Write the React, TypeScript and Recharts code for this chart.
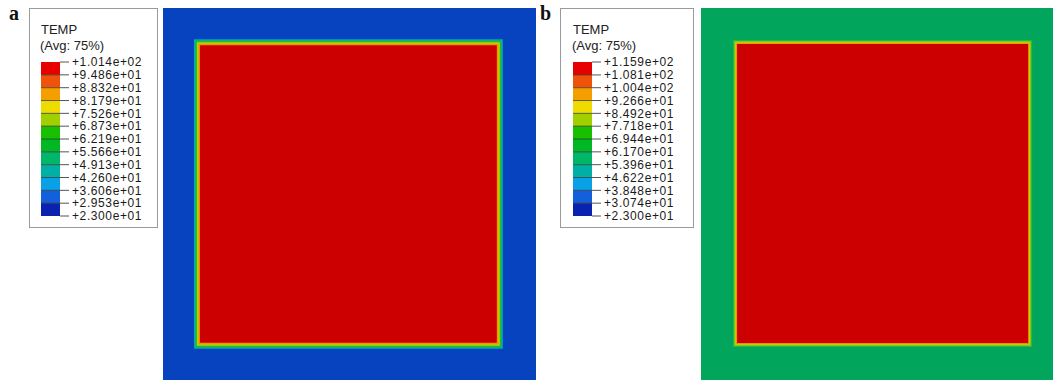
import React from 'react';
import { ComposedChart, XAxis, YAxis, ReferenceArea, ReferenceLine } from 'recharts';

// ---------- Legend data ----------
const legendValuesA = [101.4, 94.86, 88.32, 81.79, 75.26, 68.73, 62.19, 55.66, 49.13, 42.6, 36.06, 29.53, 23.0];
const legendLabelsA = ['+1.014e+02', '+9.486e+01', '+8.832e+01', '+8.179e+01', '+7.526e+01', '+6.873e+01', '+6.219e+01', '+5.566e+01', '+4.913e+01', '+4.260e+01', '+3.606e+01', '+2.953e+01', '+2.300e+01'];
const legendValuesB = [115.9, 108.1, 100.4, 92.66, 84.92, 77.18, 69.44, 61.7, 53.96, 46.22, 38.48, 30.74, 23.0];
const legendLabelsB = ['+1.159e+02', '+1.081e+02', '+1.004e+02', '+9.266e+01', '+8.492e+01', '+7.718e+01', '+6.944e+01', '+6.170e+01', '+5.396e+01', '+4.622e+01', '+3.848e+01', '+3.074e+01', '+2.300e+01'];
const panelLetters = ['a', 'b'];
const legendTitle = 'TEMP';
const legendSubtitle = '(Avg: 75%)';

// ---------- Field geometry (model units) ----------
const fieldDomainA = { x: [0, 100], y: [0, 100] };
const blockA = { x1: 9.9, x2: 89.5, y1: 10.0, y2: 90.0 };
const ringOffsetsA = [1.6, 1.2, 0.8, 0.4];
const fieldDomainB = { x: [0, 94.6], y: [0, 100] };
const blockB = { x1: 9.7, x2: 87.9, y1: 9.95, y2: 90.3 };
const ringOffsetsB = [1.1, 0.8, 0.5, 0.25];

// ---------- Styles ----------
const bandColors = ['#e60000', '#ef5208', '#f59e00', '#eedc00', '#a0d000', '#18c000', '#00b824', '#00b668', '#00b0a4', '#0aa0e6', '#1260dc', '#0a22b0'];
const ringColorsA = ['#00aab4', '#22be28', '#b8d000', '#f09400'];
const ringColorsB = ['#2cb444', '#7cc81c', '#d8cc00', '#ee8c00'];
const outerColorA = '#0742bf';
const outerColorB = '#02a55c';
const blockColor = '#cc0000';
const font = '"Liberation Sans", Arial, sans-serif';

function Field({ width, height, domain, outer, block, offsets, ringColors }: any) {
  return (
    <ComposedChart width={width} height={height} margin={{ top: 0, right: 0, bottom: 0, left: 0 }} data={[]}>
      <XAxis type="number" dataKey="x" domain={domain.x} hide allowDataOverflow />
      <YAxis type="number" dataKey="y" domain={domain.y} hide allowDataOverflow />
      <ReferenceArea x1={domain.x[0]} x2={domain.x[1]} y1={domain.y[0]} y2={domain.y[1]} fill={outer} fillOpacity={1} stroke="none" ifOverflow="visible" />
      {offsets.map((o: number, i: number) => (
        <ReferenceArea key={i} x1={block.x1 - o} x2={block.x2 + o} y1={block.y1 - o} y2={block.y2 + o} fill={ringColors[i]} fillOpacity={1} stroke="none" ifOverflow="visible" />
      ))}
      <ReferenceArea x1={block.x1} x2={block.x2} y1={block.y1} y2={block.y2} fill={blockColor} fillOpacity={1} stroke="none" ifOverflow="visible" />
    </ComposedChart>
  );
}

function Legend({ left, barLeft, boxWidth, values, labels }: any) {
  const min = values[values.length - 1];
  const max = values[0];
  const fmt = (v: number) => {
    const i = values.indexOf(v);
    return i >= 0 ? labels[i] : '';
  };
  const inset = barLeft - left;
  const chartW = boxWidth - 2;
  return (
    <div style={{ position: 'absolute', left, top: 8, width: boxWidth, height: 220, border: '1px solid #9a9a9a', boxSizing: 'border-box', background: '#fff' }}>
      <div style={{ position: 'absolute', left: inset - 1, top: 14, font: `13px ${font}`, lineHeight: '14px', color: '#222' }}>{legendTitle}</div>
      <div style={{ position: 'absolute', left: inset - 2, top: 30, font: `13px ${font}`, lineHeight: '14px', color: '#222' }}>{legendSubtitle}</div>
      <div style={{ position: 'absolute', left: -1, top: -1 }}>
        <ComposedChart width={chartW} height={218} margin={{ top: 54, right: 0, bottom: 10, left: inset }} data={[]}>
          <XAxis type="number" dataKey="x" domain={[0, 1]} hide allowDataOverflow />
          <YAxis
            type="number"
            dataKey="y"
            orientation="right"
            domain={[min, max]}
            allowDataOverflow
            ticks={values}
            interval={0}
            width={chartW - 19 - inset}
            tickFormatter={fmt}
            axisLine={false}
            tickSize={9}
            tickMargin={3}
            tickLine={{ stroke: '#555' }}
            tick={{ fontSize: 12, fill: '#1a1a1a', fontFamily: font, letterSpacing: 0.6 }}
          />
          {values.slice(0, -1).map((v: number, i: number) => (
            <ReferenceArea key={i} x1={0} x2={1} y1={values[i + 1]} y2={v} fill={bandColors[i]} fillOpacity={1} stroke="none" ifOverflow="visible" />
          ))}
          {values.slice(1, -1).map((v: number, i: number) => (
            <ReferenceLine key={'l' + i} y={v} stroke="#333" strokeOpacity={0.75} ifOverflow="visible" />
          ))}
        </ComposedChart>
      </div>
    </div>
  );
}

export default function App() {
  return (
    <div style={{ position: 'absolute', left: 0, top: 0, width: 1053, height: 383, background: '#fff', overflow: 'hidden' }}>
      <div style={{ position: 'absolute', left: 9, top: 2, font: 'bold 20px "Liberation Serif", "Times New Roman", serif', color: '#111' }}>{panelLetters[0]}</div>
      <div style={{ position: 'absolute', left: 540, top: 2, font: 'bold 20px "Liberation Serif", "Times New Roman", serif', color: '#111' }}>{panelLetters[1]}</div>
      <Legend left={29} barLeft={41} boxWidth={129} values={legendValuesA} labels={legendLabelsA} />
      <Legend left={560} barLeft={573} boxWidth={134} values={legendValuesB} labels={legendLabelsB} />
      <div style={{ position: 'absolute', left: 163, top: 8 }}>
        <Field width={373} height={372} domain={fieldDomainA} outer={outerColorA} block={blockA} offsets={ringOffsetsA} ringColors={ringColorsA} />
      </div>
      <div style={{ position: 'absolute', left: 701, top: 8 }}>
        <Field width={352} height={372} domain={fieldDomainB} outer={outerColorB} block={blockB} offsets={ringOffsetsB} ringColors={ringColorsB} />
      </div>
    </div>
  );
}
